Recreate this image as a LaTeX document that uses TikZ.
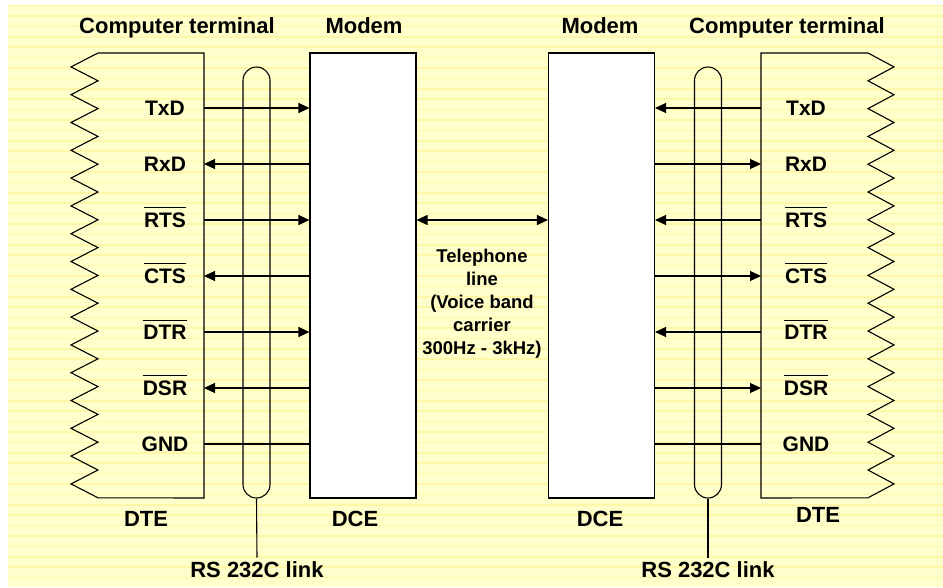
\documentclass[tikz,border=0pt]{standalone}
\usepackage{fontspec}
\setmainfont{Liberation Sans}
\usetikzlibrary{arrows.meta,positioning}
\definecolor{padyellow}{HTML}{FFFFCC}
\definecolor{padline}{HTML}{FFF6A8}
\newcommand{\barsig}[1]{\leavevmode\vbox{\hrule height 1pt\kern 4.5pt\hbox{#1}}}

\begin{document}
\begin{tikzpicture}[
    x=1pt, y=-1pt,
    font=\bfseries\fontsize{21}{25}\selectfont,
    title/.style={font=\bfseries\fontsize{22}{26}\selectfont, anchor=base},
    sigtext/.style={anchor=base},
    modem/.style={rectangle, draw, line width=1.1pt, fill=white,
                  minimum width=106pt, minimum height=445pt, inner sep=0pt},
    cable/.style={rectangle, draw, line width=1.1pt, rounded corners=13.5pt,
                  minimum width=27pt, minimum height=431pt, inner sep=0pt},
    sig/.style={line width=1.1pt},
    tomodem/.style={sig, -{Triangle[length=11pt,width=10pt]}},
    toterm/.style={sig, {Triangle[length=11pt,width=10pt]}-},
    dline/.style={sig, {Triangle[length=11pt,width=10pt]}-{Triangle[length=11pt,width=10pt]}}
]
  \useasboundingbox (0,0) rectangle (943,587);
  \fill[padyellow] (8,5) rectangle (943,587);
  \foreach \y in {5.6,16,...,587}
    \draw[padline, line width=1.5pt] (8,\y) -- (943,\y);

  % terminals with torn edge
  \draw[sig] (204,53) -- (98,53)
    \foreach \k in {1,...,16} { -- (71,{53+27.8*\k-13.9}) -- (98,{53+27.8*\k}) }
    -- (204,498) -- cycle;
  \draw[sig] (761,53) -- (868,53)
    \foreach \k in {1,...,16} { -- (894,{53+27.8*\k-13.9}) -- (868,{53+27.8*\k}) }
    -- (761,498) -- cycle;

  \node[modem] (lmodem) at (363,275.5) {};
  \node[modem] (rmodem) at (601.5,275.5) {};

  \foreach \lbl/\sty [count=\i] in {TxD/tomodem, RxD/toterm,
      {\barsig{RTS}}/tomodem, {\barsig{CTS}}/toterm,
      {\barsig{DTR}}/tomodem, {\barsig{DSR}}/toterm, GND/sig} {
    \coordinate (lp\i) at (204,{52+56*\i});
    \coordinate (rp\i) at (761,{52+56*\i});
    \node[sigtext] (lname\i) at (165,{59.5+56*\i}) {\lbl};
    \node[sigtext] (rname\i) at (806,{59.5+56*\i}) {\lbl};
    \draw[\sty] (lp\i) -- (lmodem.west |- lp\i);
    \draw[\sty] (rp\i) -- (rmodem.east |- rp\i);
  }

  \node[cable] (lcable) at (256.5,282.5) {};
  \node[cable] (rcable) at (708,282.5) {};
  \node[title] (llink) at (257,577) {RS 232C link};
  \node[title] (rlink) at (708,577) {RS 232C link};
  \draw[sig] (lcable.south) -- (llink.north);
  \draw[sig] (rcable.south) -- (rlink.north);

  \coordinate (tel) at (482,220);
  \draw[dline] (lmodem.east |- tel) -- (rmodem.west |- tel);
  \node[font=\bfseries\fontsize{18.5}{23}\selectfont, align=center] (telnote)
    at (482,304) {Telephone\\line\\(Voice band\\carrier\\300Hz - 3kHz)};

  \node[title] (lterm) at (177,33) {Computer terminal};
  \node[title] (lmtitle) at (364,33) {Modem};
  \node[title] (rmtitle) at (600,33) {Modem};
  \node[title] (rterm) at (787,33) {Computer terminal};
  \node[title] (ldte) at (146,526) {DTE};
  \node[title] (ldce) at (355,526) {DCE};
  \node[title] (rdce) at (600,526) {DCE};
  \node[title] (rdte) at (818,522) {DTE};
\end{tikzpicture}
\end{document}
